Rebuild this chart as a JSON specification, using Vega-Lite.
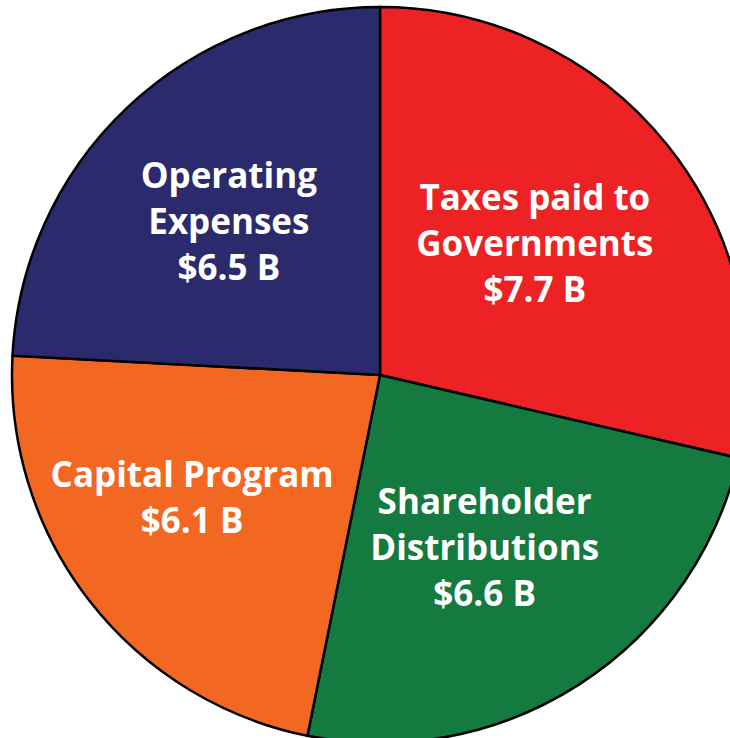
{
  "$schema": "https://vega.github.io/schema/vega-lite/v6.json",
  "width": 730,
  "height": 738,
  "autosize": {"type": "fit", "contains": "padding"},
  "padding": {"left": 30, "top": 12, "right": 0, "bottom": 0},
  "background": "white",
  "view": {"stroke": null},
  "data": {
    "values": [
      {"category": "Taxes paid to Governments", "value": 7.7, "rank": 1, "lines": 3, "label": ["Taxes paid to", "Governments", "$7.7 B"]},
      {"category": "Shareholder Distributions", "value": 6.6, "rank": 2, "lines": 3, "label": ["Shareholder", "Distributions", "$6.6 B"]},
      {"category": "Capital Program", "value": 6.1, "rank": 3, "lines": 2, "label": ["Capital Program", "$6.1 B"]},
      {"category": "Operating Expenses", "value": 6.5, "rank": 4, "lines": 3, "label": ["Operating", "Expenses", "$6.5 B"]}
    ]
  },
  "encoding": {
    "theta": {"field": "value", "type": "quantitative", "stack": true},
    "order": {"field": "rank", "type": "quantitative"}
  },
  "layer": [
    {
      "mark": {"type": "arc", "outerRadius": 368, "stroke": "#000000", "strokeWidth": 2.5},
      "encoding": {
        "color": {
          "field": "category",
          "type": "nominal",
          "scale": {
            "domain": ["Taxes paid to Governments", "Shareholder Distributions", "Capital Program", "Operating Expenses"],
            "range": ["#ED2224", "#157A3F", "#F26722", "#2B2A6C"]
          },
          "legend": null
        }
      }
    },
    {
      "mark": {"type": "text", "radius": 208, "dx": -8, "dy": -47, "font": "Open Sans", "fontWeight": "bold", "fontSize": 35, "lineHeight": 46, "baseline": "middle", "align": "center", "color": "white"},
      "encoding": {
        "text": {"field": "label", "type": "nominal"},
        "opacity": {"condition": {"test": "datum.lines === 3", "value": 1}, "value": 0}
      }
    },
    {
      "mark": {"type": "text", "radius": 215, "dx": -18, "dy": -31, "font": "Open Sans", "fontWeight": "bold", "fontSize": 35, "lineHeight": 46, "baseline": "middle", "align": "center", "color": "white"},
      "encoding": {
        "text": {"field": "label", "type": "nominal"},
        "opacity": {"condition": {"test": "datum.lines === 2", "value": 1}, "value": 0}
      }
    }
  ]
}
